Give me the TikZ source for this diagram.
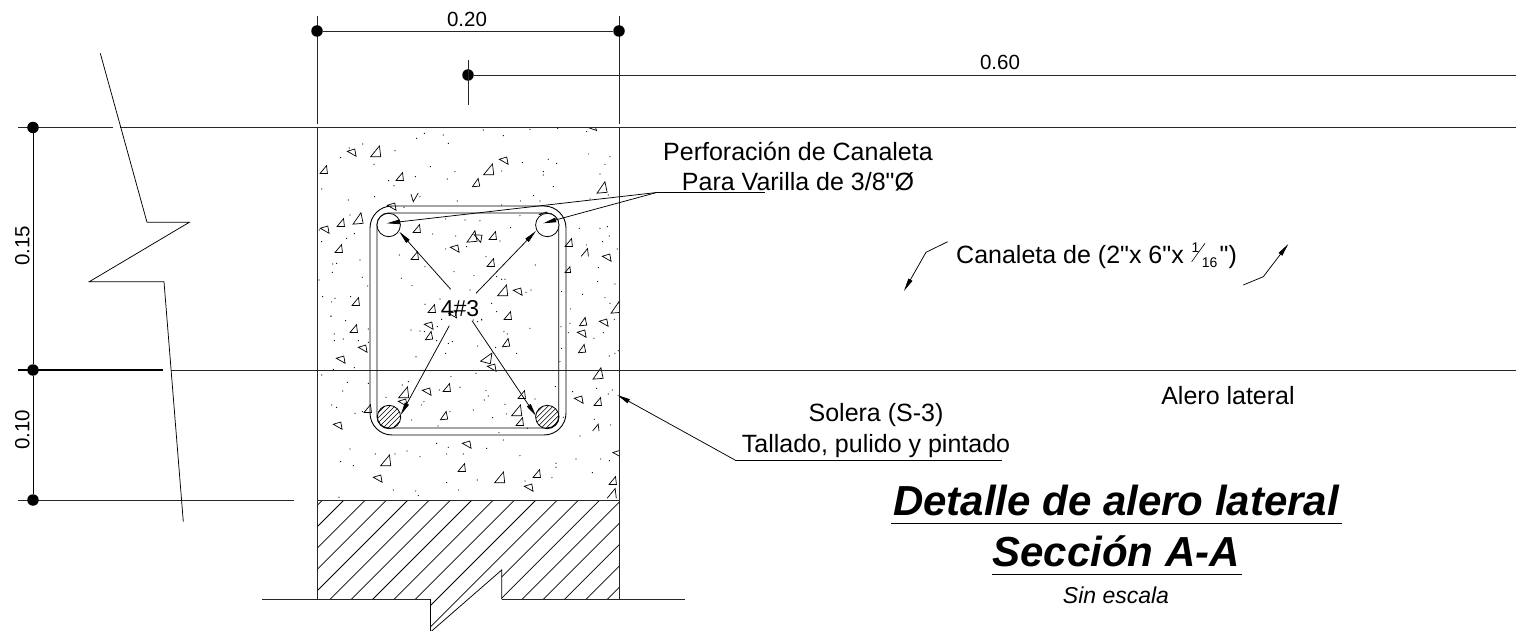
\documentclass[tikz,border=0pt]{standalone}
\usepackage{fontspec}
\setmainfont{Liberation Sans}[Ligatures=TeXOff]
\usetikzlibrary{arrows.meta,calc}
\tikzset{
  ln/.style={line width=0.85pt,black!85},
  thin line/.style={line width=0.75pt,black},
  leader/.style={line width=0.75pt,black,-{Triangle[length=13pt,width=4.5pt]}},
  lbl/.style={inner sep=0pt,anchor=base,font=\fontsize{25}{25}\selectfont},
  dimlbl/.style={inner sep=0pt,anchor=base,font=\fontsize{20.5}{20.5}\selectfont},
  ttl/.style={inner sep=0pt,anchor=base,font=\fontsize{42}{42}\selectfont\bfseries\itshape},
  dimdot/.style={circle,fill=black,inner sep=0pt,minimum size=11.5pt},
  aggregate/.style={line width=0.7pt,black,line join=miter}
}
\begin{document}
\begin{tikzpicture}[x=1pt,y=-1pt]
\useasboundingbox (0,0) rectangle (1516,631);

% aggregate: triangles and dots
\begin{scope}
\clip (317,128) rectangle (619,500);
\foreach \x/\y/\s/\r in {
352/153/4/100, 376/152/5.5/0, 324/170/4/0, 400/177/4/0, 489/170/5.5/0, 504/161/4/100,
476/183/4/5, 602/188/5.5/5, 592/128/4/110, 392/207/4/100, 358/219/5.5/5, 341/223/4/0,
325/230/4/100, 417/229/4/0, 544/216/4/100, 472/237/5.5/5, 478/238/4/80, 493/236/4/0,
455/249/4/100, 339/249/4/0, 415/256/4/0, 569/243/4/0, 607/258/4/100, 568/270/3/0,
491/263/4/0, 503/291/5.5/0, 518/292/4/100, 356/302/4/0, 432/309/4/0, 453/315/3.5/100,
508/316/4/0, 616/308/5.5/5, 354/329/4/0, 429/326/4/100, 429/336/4/5, 583/322/4/5,
604/323/4/100, 582/334/4/100, 582/349/4/5, 506/343/4/5, 363/349/4/100, 341/360/4/100,
487/358/5.5/-15, 492/368/4/100, 598/374/5.5/5, 404/393/5.5/0, 403/403/4/100, 427/392/4/100,
447/388/4/0, 522/395/4/0, 579/400/4/100, 598/402/4/0, 368/409/4/0, 517/411/5.5/0,
520/422/4/0, 444/416/4/5, 338/426/4/100, 467/445/4/100, 386/461/5.5/0, 462/468/4/0,
500/478/5.5/0, 537/474/4/0, 378/479/4/100, 529/488/4/100, 613/481/4/0, 617/454/3.5/100}
  \draw[aggregate,shift={(\x,\y)},rotate=\r] ({-0.98*\s},{0.86*\s}) -- ({0.86*\s},{0.86*\s}) -- ({0.63*\s},{-1.09*\s}) -- cycle;
\foreach \x/\y/\s/\r in {415/197/4/190, 585/253/4/0, 596/428/3.5/0, 612/494/5/0}
  \draw[aggregate,shift={(\x,\y)},rotate=\r] ({-0.98*\s},{0.86*\s}) -- ({0.63*\s},{-1.09*\s}) -- ({0.86*\s},{0.86*\s});
\begin{scope}[shift={(300,120)},x=0.3333pt,y=-0.3333pt]
\foreach \a/\b in {373/40,350/55,430/45,445/70,550/30,610/47,690/28,773/25,860/35,890/22,188/72,148/84,122/113,285/92,222/133,52/125,391/140,465/155,442/177,346/170,266/182,282/197,605/153,667/128,745/118,770/130,730/155,730/165,866/102,930/110,915/133,900/162,760/200,701/227,65/207,145/240,224/230,360/230,472/243,605/255,662/243,720/243,870/237,925/225,312/262,437/297,495/300,540/302,660/287,150/285,65/365,58/330,140/355,163/341,398/342,467/348,437/387,500/380,632/323,600/363,838/325,900/325,922/320,928/348,908/365,860/375,952/387,895/443,298/405,375/440,462/455,522/467,590/470,605/478,615/478,706/435,558/410,180/420,98/432,110/430,97/457,187/472,203/498,57/480,304/475,336/497,510/510,678/517,693/510,785/515,945/492,848/523,893/485,915/533,930/550,68/530,95/546,105/535,152/530,375/553,420/537,575/550,590/575,520/600,545/598,855/597,93/590,812/567}
  \fill (\a,\b) circle[radius=0.6pt];
\end{scope}
\begin{scope}[shift={(300,310)},x=0.3333pt,y=-0.3333pt]
\foreach \a/\b in {93/18,137/32,103/72,103/92,130/87,175/92,205/57,205/97,333/60,360/63,373/65,412/50,425/28,533/35,545/30,445/100,457/95,410/92,437/130,533/108,612/65,622/72,690/55,587/112,650/130,810/40,783/50,805/68,882/85,910/68,943/28,785/115,928/138,945/130,955/122,780/155,348/140,163/173,100/178,65/195,142/217,128/243,205/220,325/215,307/225,453/200,528/190,480/232,418/240,558/242,565/258,553/270,372/275,365/285,258/262,95/285,110/292,165/310,187/305,450/305,335/330,520/300,578/323,615/283,620/312,705/267,766/230,818/245,890/235,925/252,937/240,790/322,883/328,932/345,840/378,414/348,597/368,610/390,682/355,410/400,445/412,440/432,490/432,560/415,150/417,226/432,285/432,321/423,360/440,122/455,160/467,660/437,768/460,768/472,756/503,828/447,902/447,928/452,877/488,532/510,440/518,675/513,280/540,347/543,355/557,476/540,117/562,50/375}
  \fill (\a,\b) circle[radius=0.6pt];
\end{scope}
\end{scope}

% hatch below the beam
\begin{scope}
\clip (317,501) -- (619,501) -- (619,599) -- (501.7,599) -- (501.7,570) -- (431.7,631) -- (430.7,631) -- (430.7,599) -- (317,599) -- cycle;
\foreach \k in {-2,...,18}
  \draw[thin line] ({844+21.33*\k-500},500) -- ({844+21.33*\k-640},640);
\end{scope}

% reference lines
\draw[ln] (18,127.5) -- (113,127.5);
\draw[ln] (120,127.5) -- (1516,127.5);
\draw[line width=1.1pt,black] (18,370) -- (163,370);
\draw[ln] (171,370) -- (1516,370);
\draw[ln] (18,500) -- (294,500);
\draw[ln] (317,16) -- (317,124);
\draw[ln] (619,16) -- (619,124);
\draw[ln] (317,127.5) -- (317,599);
\draw[ln] (619,127.5) -- (619,599);
\draw[ln] (317,500.7) -- (619,500.7);
\draw[ln] (262,599) -- (430.7,599);
\draw[ln] (501.7,599) -- (685,599);
\draw[thin line,line join=bevel] (430.7,599) -- (430.7,631);
\draw[thin line] (431.7,631) -- (501.7,570) -- (501.7,599);

% dimensions
\node[dimdot] (d20a) at (317,31) {};
\node[dimdot] (d20b) at (619,31) {};
\draw[ln] (d20a) -- (d20b);
\node[dimdot] (d60) at (468,75) {};
\coordinate (d60end) at (1516,75);
\draw[ln] (d60) -- (d60end);
\draw[ln] (468,60) -- (468,105);
\node[dimdot] (dv1) at (33,127.5) {};
\node[dimdot] (dv2) at (33,370) {};
\node[dimdot] (dv3) at (33,500) {};
\draw[thin line] (dv1) -- (dv2);
\draw[thin line] (dv2) -- (dv3);
\node[dimlbl] (t020) at (467,27) {0.20};
\node[dimlbl] (t060) at (1000,70) {0.60};
\node[dimlbl,rotate=90,anchor=base] (t015) at (29.3,246) {0.15};
\node[dimlbl,rotate=90,anchor=base] (t010) at (29.3,430) {0.10};

% break line
\draw[thin line,line join=miter] (100.3,53.3) -- (147,222.3) -- (189.3,222.3) -- (89.3,281.7) -- (164,281.7) -- (183.3,521.7);

% stirrup and bars
\draw[line width=0.9pt,black,rounded corners=22pt] (370,206) -- (566,206) -- (566,435) -- (370,435) -- cycle;
\draw[line width=0.9pt,black,rounded corners=11.7pt] (377,213) -- (558.7,213) -- (558.7,428) -- (377,428) -- cycle;
\node[circle,draw=black,line width=0.8pt,fill=white,inner sep=0pt,minimum size=23.4pt] (b1) at (388.7,225) {};
\node[circle,draw=black,line width=0.8pt,fill=white,inner sep=0pt,minimum size=23.4pt] (b2) at (547.3,225) {};
\node[circle,draw=black,line width=0.8pt,inner sep=0pt,minimum size=23.4pt] (b3) at (389,417) {};
\node[circle,draw=black,line width=0.8pt,inner sep=0pt,minimum size=23.4pt] (b4) at (547.3,417) {};
\foreach \c in {b3,b4}{
  \begin{scope}
  \clip (\c) circle[radius=11.7pt];
  \foreach \k in {-4,...,4}
    \draw[line width=0.6pt] ($(\c)+({\k*5-20},20)$) -- ($(\c)+({\k*5+20},-20)$);
  \end{scope}
}

% labels
\node[lbl] (n43) at (460,316.5) {\fontsize{23}{23}\selectfont 4\#3};
\coordinate (l1) at (450.7,289.3);
\coordinate (l2) at (476,293.3);
\coordinate (l3) at (449.3,325.7);
\coordinate (l4) at (472,320.7);
\coordinate (t1) at (399.3,231.7);
\coordinate (t2) at (536,231);
\coordinate (t3) at (400.7,415);
\coordinate (t4) at (536,416);
\draw[leader] (l1) -- (t1);
\draw[leader] (l2) -- (t2);
\draw[leader] (l3) -- (t3);
\draw[leader] (l4) -- (t4);

\node[lbl] (perf) at (798,160.7) {Perforación de Canaleta};
\node[lbl] (vari) at (798,191) {Para Varilla de 3/8"Ø};
\coordinate (p0) at (656.7,192.5);
\coordinate (p1) at (765,192.5);
\coordinate (pa) at (386.7,223.3);
\coordinate (pb) at (543.3,223.3);
\draw[thin line] (p0) -- (p1);
\draw[leader] (p0) -- (pa);
\draw[leader] (p0) -- (pb);

\node[lbl] (sol) at (876,421.7) {Solera (S-3)};
\node[lbl] (tal) at (876,452.7) {Tallado, pulido y pintado};
\coordinate (s0) at (735,460);
\coordinate (s1) at (1001.7,460);
\coordinate (s2) at (617.3,395);
\draw[thin line] (s0) -- (s1);
\draw[leader] (s0) -- (s2);

\node[lbl] (aler) at (1228,404) {Alero lateral};

\node[lbl,anchor=base west] (can) at (956,263.3) {Canaleta de (2"x 6"x};
\node[inner sep=0pt,anchor=base,font=\fontsize{14}{14}\selectfont] (f1) at (1195.5,253) {1};
\node[inner sep=0pt,anchor=base west,font=\fontsize{14}{14}\selectfont] (f2) at (1201.7,267.3) {16};
\draw[line width=0.6pt] (1191.7,261.7) -- (1205,243.3);
\node[lbl,anchor=base west] (can2) at (1219.5,263.3) {")};
\coordinate (c1) at (947.7,241.7);
\coordinate (c2) at (926,252.3);
\coordinate (c3) at (904,291);
\coordinate (c4) at (1243.3,285);
\coordinate (c5) at (1263.3,276.7);
\coordinate (c6) at (1288.3,244);
\draw[leader] (c1) -- (c2) -- (c3);
\draw[leader] (c4) -- (c5) -- (c6);

\node[ttl] (ti1) at (1116,515) {Detalle de alero lateral};
\node[ttl] (ti2) at (1116,566) {Sección A-A};
\draw[line width=1pt] (891,523.3) -- (1341.7,523.3);
\draw[line width=1pt] (992,574.3) -- (1241.7,574.3);
\node[inner sep=0pt,anchor=base,font=\fontsize{23}{23}\selectfont\itshape] (esc) at (1116,603) {Sin escala};
\end{tikzpicture}
\end{document}
